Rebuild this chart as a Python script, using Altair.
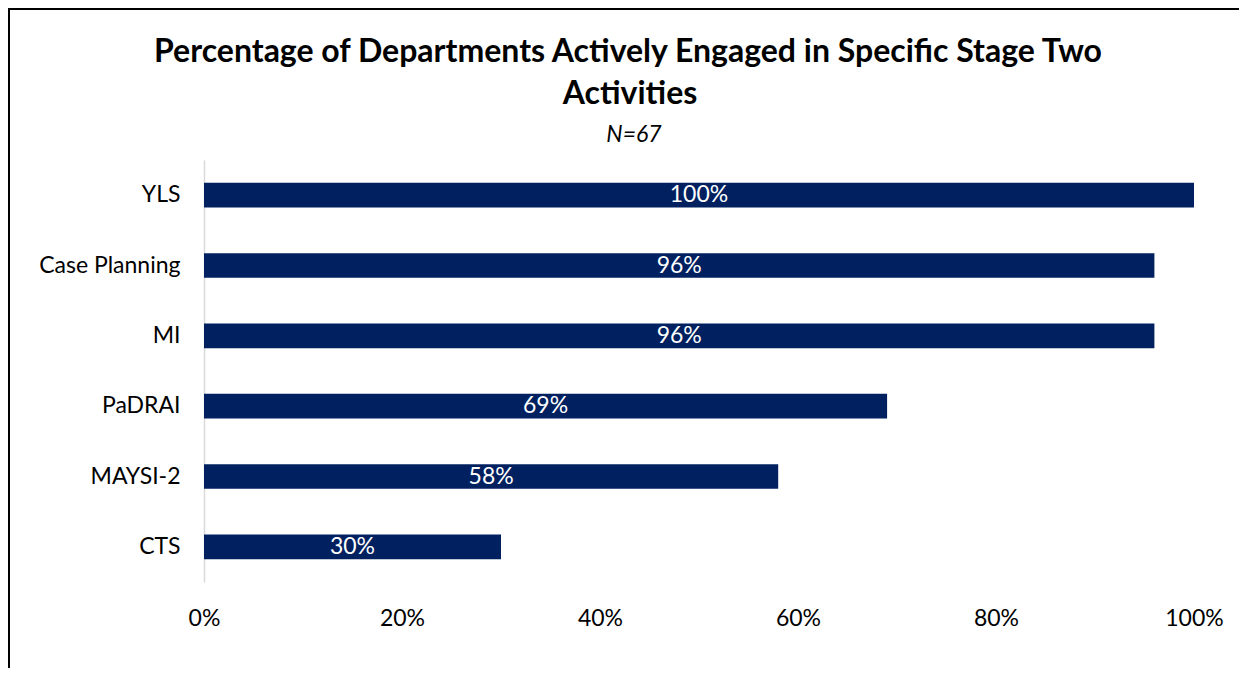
import altair as alt
import pandas as pd

categories = ["YLS", "Case Planning", "MI", "PaDRAI", "MAYSI-2", "CTS"]
values = [1.00, 0.96, 0.96, 0.69, 0.58, 0.30]
title_lines = ["Percentage of Departments Actively Engaged in Specific Stage Two", "Activities"]
subtitle_text = "N=67"

df = pd.DataFrame({"activity": categories, "pct": values})

FONT = "Lato"
NAVY = "#002060"
FS = 23

base = alt.Chart(df)

bars = base.mark_bar(color=NAVY).encode(
    y=alt.Y("activity:N", sort=categories, title=None,
            scale=alt.Scale(paddingInner=0.65, paddingOuter=0.325),
            axis=alt.Axis(domain=True, domainColor="#d9d9d9", domainWidth=1.5,
                          ticks=False, tickSize=0, labelPadding=24,
                          labelFontSize=FS, labelColor="#000000", labelFont=FONT,
                          grid=False)),
    x=alt.X("pct:Q", title=None,
            scale=alt.Scale(domain=[0, 1], nice=False),
            axis=alt.Axis(format=".0%", values=[0, 0.2, 0.4, 0.6, 0.8, 1.0],
                          domain=False, ticks=False, tickSize=0, grid=False,
                          labelFlush=False, labelOverlap=False,
                          labelPadding=25, labelFontSize=FS, labelColor="#000000",
                          labelFont=FONT)),
)

labels = base.transform_calculate(mid="datum.pct / 2").mark_text(
    color="white", font=FONT, fontSize=FS, baseline="middle", align="center"
).encode(
    y=alt.Y("activity:N", sort=categories),
    x=alt.X("mid:Q"),
    text=alt.Text("pct:Q", format=".0%"),
)

one = alt.Data(values=[{"k": 1}])

title1 = alt.Chart(one).mark_text(
    font=FONT, fontSize=32, fontWeight="bold", color="#000000",
    align="center", baseline="alphabetic"
).encode(x=alt.value(424), y=alt.value(-98), text=alt.value(title_lines[0]))

title2 = alt.Chart(one).mark_text(
    font=FONT, fontSize=32, fontWeight="bold", color="#000000",
    align="center", baseline="alphabetic"
).encode(x=alt.value(426), y=alt.value(-56), text=alt.value(title_lines[1]))

subtitle = alt.Chart(one).mark_text(
    font=FONT, fontSize=FS, fontStyle="italic", color="#000000",
    align="center", baseline="alphabetic"
).encode(x=alt.value(430), y=alt.value(-18), text=alt.value(subtitle_text))

left_border = alt.Chart(one).mark_rule(color="#000000", strokeWidth=2).encode(
    x=alt.value(-195), y=alt.value(-152), y2=alt.value(530)
)
top_border = alt.Chart(one).mark_rule(color="#000000", strokeWidth=2).encode(
    x=alt.value(-196), x2=alt.value(1045), y=alt.value(-151)
)

chart = alt.layer(bars, labels, title1, title2, subtitle, left_border, top_border).properties(
    width=990,
    height=422,
    autosize=alt.AutoSizeParams(type="none"),
    padding={"left": 196, "top": 152, "right": 45, "bottom": 86},
    background="white",
).configure_view(strokeWidth=0, stroke="transparent")

chart.save("out.html", embed_options={"renderer": "svg", "actions": False})
